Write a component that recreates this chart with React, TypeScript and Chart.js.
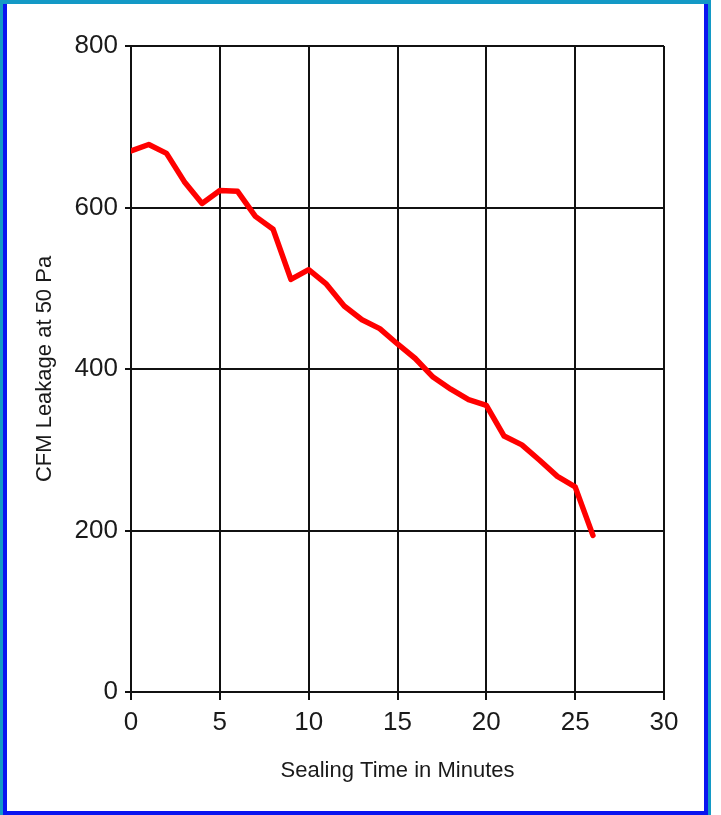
import React, { useEffect, useRef } from "react";
import { Chart, registerables } from "chart.js";

Chart.register(...registerables);

const minutes = [0, 1, 2, 3, 4, 5, 6, 7, 8, 9, 10, 11, 12, 13, 14, 15, 16, 17, 18, 19, 20, 21, 22, 23, 24, 25, 26];
const leakage = [670, 678, 667, 632, 605, 621, 620, 589, 573, 511, 523, 505, 478, 461, 450, 431, 413, 390, 375, 362, 355, 317, 306, 287, 267, 254, 194];

const xTitle = "Sealing Time in Minutes";
const yTitle = "CFM Leakage at 50 Pa";

const FONT = "'Liberation Sans', Arial, sans-serif";

export default function App() {
  const ref = useRef<HTMLCanvasElement>(null);

  useEffect(() => {
    const canvas = ref.current;
    if (!canvas) return;
    const chart = new Chart(canvas, {
      type: "line",
      data: {
        datasets: [
          {
            data: minutes.map((m, i) => ({ x: m, y: leakage[i] })),
            borderColor: "#ff0000",
            borderWidth: 5.5,
            pointRadius: 0,
            tension: 0,
            borderJoinStyle: "round",
            borderCapStyle: "round",
            fill: false,
          },
        ],
      },
      options: {
        animation: false,
        responsive: false,
        devicePixelRatio: 1,
        layout: { padding: { left: 0, top: 46, right: 57, bottom: 24 } },
        plugins: { legend: { display: false }, tooltip: { enabled: false } },
        scales: {
          x: {
            type: "linear",
            min: 0,
            max: 30,
            ticks: { stepSize: 5, color: "#1a1a1a", font: { family: FONT, size: 26 }, padding: 7 },
            grid: { color: "#111", lineWidth: 2, tickLength: 8 },
            border: { color: "#111", width: 2 },
            title: {
              display: true,
              text: xTitle,
              color: "#1a1a1a",
              font: { family: FONT, size: 22 },
              padding: { top: 0, bottom: 7 },
            },
            afterFit: (s: any) => {
              s.height = 99;
            },
          },
          y: {
            min: 0,
            max: 800,
            ticks: { stepSize: 200, color: "#1a1a1a", font: { family: FONT, size: 26 }, padding: 7 },
            grid: { color: "#111", lineWidth: 2, tickLength: 6 },
            border: { color: "#111", width: 2 },
            title: {
              display: true,
              text: yTitle,
              color: "#1a1a1a",
              font: { family: FONT, size: 22 },
              padding: { top: 32, bottom: 0 },
            },
            afterFit: (s: any) => {
              s.width = 131;
            },
          },
        },
      },
    });
    return () => chart.destroy();
  }, []);

  return (
    <div style={{ position: "absolute", left: 0, top: 0, width: 721, height: 815, background: "#fff" }}>
      <div style={{ position: "absolute", left: 0, top: 0, width: 711, height: 815, background: "#1399c6" }} />
      <div
        style={{
          position: "absolute",
          left: 3,
          top: 4,
          width: 705,
          height: 811,
          background: "#fff",
          boxSizing: "border-box",
          borderLeft: "4px solid #0a14f0",
          borderRight: "4px solid #0a14f0",
          borderBottom: "4px solid #0a14f0",
        }}
      />
      <canvas ref={ref} width={721} height={815} style={{ position: "absolute", left: 0, top: 0, width: 721, height: 815 }} />
    </div>
  );
}
